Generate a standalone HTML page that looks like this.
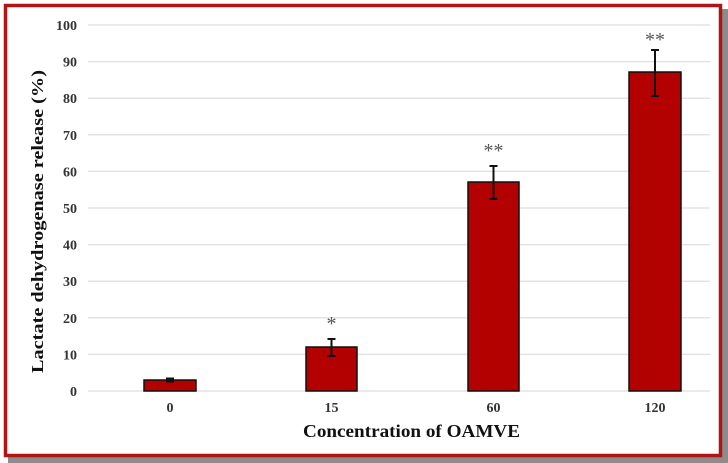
<!DOCTYPE html>
<html><head><meta charset="utf-8"><style>
html,body{margin:0;padding:0;background:#fff;}
svg{display:block;}
</style></head><body>
<svg width="728" height="463" viewBox="0 0 728 463" xmlns="http://www.w3.org/2000/svg">
<rect x="0" y="0" width="728" height="463" fill="#fff"/>
<!-- shadow -->
<rect x="722" y="9" width="6" height="454" fill="#8c8c8c"/>
<rect x="8" y="457" width="720" height="6" fill="#8c8c8c"/>
<!-- frame -->
<rect x="5.5" y="5.5" width="715" height="450" fill="#fff" stroke="#b01515" stroke-width="3.5"/>
<!-- gridlines -->
<g stroke="#e3e3e3" stroke-width="1.5">
<line x1="88" y1="25" x2="710" y2="25"/>
<line x1="88" y1="61.6" x2="710" y2="61.6"/>
<line x1="88" y1="98.2" x2="710" y2="98.2"/>
<line x1="88" y1="134.8" x2="710" y2="134.8"/>
<line x1="88" y1="171.4" x2="710" y2="171.4"/>
<line x1="88" y1="208" x2="710" y2="208"/>
<line x1="88" y1="244.6" x2="710" y2="244.6"/>
<line x1="88" y1="281.2" x2="710" y2="281.2"/>
<line x1="88" y1="317.8" x2="710" y2="317.8"/>
<line x1="88" y1="354.4" x2="710" y2="354.4"/>
<line x1="88" y1="391" x2="710" y2="391"/>
</g>
<!-- y tick labels -->
<g font-family="Liberation Serif, serif" font-weight="bold" font-size="14" fill="#333" text-anchor="end">
<text x="77" y="30">100</text>
<text x="77" y="66.6">90</text>
<text x="77" y="103.2">80</text>
<text x="77" y="139.8">70</text>
<text x="77" y="176.4">60</text>
<text x="77" y="213">50</text>
<text x="77" y="249.6">40</text>
<text x="77" y="286.2">30</text>
<text x="77" y="322.8">20</text>
<text x="77" y="359.4">10</text>
<text x="77" y="396">0</text>
</g>
<!-- bars -->
<g fill="#b30000" stroke="#111" stroke-width="1.5">
<rect x="144" y="380" width="52" height="11"/>
<rect x="306" y="347" width="51" height="44"/>
<rect x="468" y="182" width="51" height="209"/>
<rect x="629" y="72" width="52" height="319"/>
</g>
<!-- error bars -->
<g stroke="#111" stroke-width="2">
<line x1="170" y1="378.5" x2="170" y2="381.5"/><line x1="166" y1="378.5" x2="174" y2="378.5"/><line x1="166" y1="381.5" x2="174" y2="381.5"/>
<line x1="331.5" y1="339" x2="331.5" y2="356"/><line x1="327.5" y1="339" x2="335.5" y2="339"/><line x1="327.5" y1="356" x2="335.5" y2="356"/>
<line x1="493.5" y1="166" x2="493.5" y2="199"/><line x1="489.5" y1="166" x2="497.5" y2="166"/><line x1="489.5" y1="199" x2="497.5" y2="199"/>
<line x1="655" y1="50" x2="655" y2="96"/><line x1="651" y1="50" x2="659" y2="50"/><line x1="651" y1="96" x2="659" y2="96"/>
</g>
<!-- asterisks -->
<g font-family="Liberation Serif, serif" font-size="20" fill="#555" text-anchor="middle">
<text x="331.5" y="330">*</text>
<text x="493.5" y="157">**</text>
<text x="655" y="46">**</text>
</g>
<!-- x tick labels -->
<g font-family="Liberation Serif, serif" font-weight="bold" font-size="14" fill="#333" text-anchor="middle">
<text x="170" y="412">0</text>
<text x="331.5" y="412">15</text>
<text x="493.5" y="412">60</text>
<text x="655" y="412">120</text>
</g>
<!-- axis titles -->
<text x="411.5" y="437" font-family="Liberation Serif, serif" font-weight="bold" font-size="18" fill="#111" text-anchor="middle" textLength="217" lengthAdjust="spacingAndGlyphs">Concentration of OAMVE</text>
<text transform="translate(43,221.5) rotate(-90)" font-family="Liberation Serif, serif" font-weight="bold" font-size="17" fill="#111" text-anchor="middle" textLength="303" lengthAdjust="spacingAndGlyphs">Lactate dehydrogenase release (%)</text>
</svg>
</body></html>
